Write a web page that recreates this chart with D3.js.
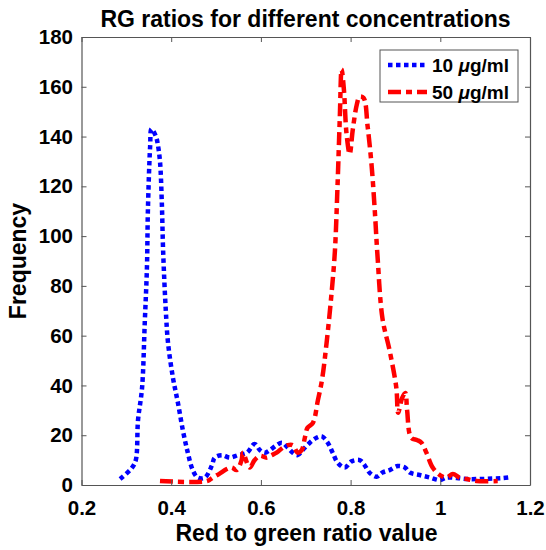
<!DOCTYPE html>
<html>
<head>
<meta charset="utf-8">
<script src="https://cdn.jsdelivr.net/npm/d3@7"></script>
<style>
  body { margin: 0; background: #fff; }
  text { font-family: "Liberation Sans", Arial, sans-serif; font-weight: bold; fill: #000; }
</style>
</head>
<body>
<script>
// data
let xTicks = [0.2, 0.4, 0.6, 0.8, 1, 1.2];
let yTicks = [0, 20, 40, 60, 80, 100, 120, 140, 160, 180];

let blueX = [0.286, 0.312, 0.321, 0.326, 0.335, 0.341, 0.346, 0.348, 0.353, 0.356, 0.366, 0.370, 0.375, 0.379,
  0.382, 0.388, 0.393, 0.404, 0.415, 0.426, 0.437, 0.448, 0.459, 0.475, 0.491, 0.497, 0.513, 0.531, 0.549, 0.569,
  0.586, 0.598, 0.609, 0.620, 0.635, 0.647, 0.660, 0.671, 0.682, 0.693, 0.709, 0.724, 0.736, 0.749, 0.760, 0.771,
  0.787, 0.802, 0.820, 0.831, 0.842, 0.858, 0.871, 0.887, 0.905, 0.921, 0.932, 0.954, 0.977, 0.999, 1.014, 1.037,
  1.059, 1.088, 1.116, 1.139, 1.158];
let blueY = [2.4, 6.8, 10, 26, 39, 65, 88, 110, 136, 143, 140, 137, 130, 114,
  94, 70, 57, 43, 33, 22, 13, 6, 3, 3, 8, 11, 12, 11, 12, 13,
  16.5, 14, 13, 14, 16, 17, 15, 13, 12, 14, 17, 19, 19.5, 17, 13, 9,
  7, 9.5, 10, 8, 5, 3.3, 5, 6, 7.6, 7, 5, 4, 3, 2, 3, 2.8,
  2.4, 2.4, 2.6, 2.8, 3.2];

let redX = [0.375, 0.48, 0.493, 0.508, 0.524, 0.535, 0.546, 0.557, 0.560, 0.575, 0.586, 0.598, 0.613, 0.624,
  0.635, 0.649, 0.660, 0.671, 0.682, 0.691, 0.698, 0.704, 0.716, 0.727, 0.736, 0.747, 0.758, 0.765, 0.771,
  0.776, 0.780, 0.785, 0.791, 0.798, 0.805, 0.814, 0.820, 0.829, 0.838, 0.847, 0.854, 0.860, 0.871, 0.887,
  0.902, 0.906, 0.915, 0.922, 0.926, 0.935, 0.949, 0.958, 0.969, 0.983, 0.999, 1.014, 1.028, 1.043, 1.059,
  1.081, 1.128];
let redY = [1.6, 1.6, 3, 4.6, 6.4, 7, 6, 10, 13, 7, 10, 11.7, 11, 12,
  13, 15, 16, 16, 13, 14, 19, 23, 25, 34, 42, 58, 78, 94, 121,
  148, 167, 159, 141, 133, 143, 153, 156, 155.5, 144, 128, 110, 92, 67, 54,
  39, 29, 35, 37, 30, 19, 18, 17, 13, 7, 4, 3, 4.4, 3, 2.4,
  1.6, 1.6];

let series = [
  {name: "10", xs: blueX, ys: blueY, color: "#0000ff", dash: "4.5,3.5"},
  {name: "50", xs: redX, ys: redY, color: "#ff0000", dash: "13,5,6,5"}
];

let margin = {left: 81.5, right: 16, top: 37, bottom: 65};
let width = 546, height = 550;

let x = d3.scaleLinear().domain([0.2, 1.2]).range([margin.left, width - margin.right]);
let y = d3.scaleLinear().domain([0, 180]).range([height - margin.bottom, margin.top]);

let svg = d3.select("body").append("svg").attr("width", width).attr("height", height);

// curves
let line = d3.line().x(d => x(d[0])).y(d => y(d[1])).curve(d3.curveCatmullRom.alpha(0.5));

series.forEach(s => {
  svg.append("path")
    .attr("d", line(s.xs.map((v, i) => [v, s.ys[i]])))
    .attr("fill", "none")
    .attr("stroke", s.color)
    .attr("stroke-width", 4.5)
    .attr("stroke-dasharray", s.dash);
});

// axes with inward ticks on all four sides
let axisColor = "#555";
let bottomAxis = svg.append("g").attr("transform", "translate(0," + y(0) + ")")
  .call(d3.axisBottom(x).tickValues(xTicks).tickSizeInner(-5).tickSizeOuter(0).tickFormat(d3.format("")));
let topAxis = svg.append("g").attr("transform", "translate(0," + y(180) + ")")
  .call(d3.axisTop(x).tickValues(xTicks).tickSizeInner(-5).tickSizeOuter(0).tickFormat(""));
let leftAxis = svg.append("g").attr("transform", "translate(" + x(0.2) + ",0)")
  .call(d3.axisLeft(y).tickValues(yTicks).tickSizeInner(-5).tickSizeOuter(0).tickPadding(8.5));
let rightAxis = svg.append("g").attr("transform", "translate(" + x(1.2) + ",0)")
  .call(d3.axisRight(y).tickValues(yTicks).tickSizeInner(-5).tickSizeOuter(0).tickFormat(""));

[bottomAxis, topAxis, leftAxis, rightAxis].forEach(g => {
  g.select(".domain").attr("stroke", axisColor).attr("stroke-width", 1.2);
  g.selectAll(".tick line").attr("stroke", axisColor);
  g.selectAll(".tick text").attr("font-size", 20.5).attr("font-family", "Liberation Sans, Arial, sans-serif")
    .attr("font-weight", "bold").attr("fill", "#000");
});
// tick labels sit just above the axis title
bottomAxis.selectAll(".tick text").attr("dy", "0").attr("y", 30);

// title and axis labels
svg.append("text").attr("x", 305.5).attr("y", 27).attr("text-anchor", "middle")
  .attr("font-size", 23).text("RG ratios for different concentrations");
svg.append("text").attr("x", 306.5).attr("y", 540.5).attr("text-anchor", "middle")
  .attr("font-size", 23).text("Red to green ratio value");
svg.append("text").attr("transform", "translate(26,261) rotate(-90)").attr("text-anchor", "middle")
  .attr("font-size", 23).text("Frequency");

// legend
let legend = svg.append("g").attr("transform", "translate(380,50)");
legend.append("rect").attr("width", 138).attr("height", 52)
  .attr("fill", "#fff").attr("stroke", "#555").attr("stroke-width", 1);
series.forEach((s, i) => {
  let ly = 15 + i * 27;
  legend.append("line").attr("x1", 8).attr("x2", 47).attr("y1", ly).attr("y2", ly)
    .attr("stroke", s.color).attr("stroke-width", 4.5).attr("stroke-dasharray", s.dash);
  let t = legend.append("text").attr("x", 52).attr("y", ly + 7).attr("font-size", 19);
  t.append("tspan").text(s.name + " ");
  t.append("tspan").attr("font-style", "italic").text("\u03bc");
  t.append("tspan").text("g/ml");
});
</script>
</body>
</html>
